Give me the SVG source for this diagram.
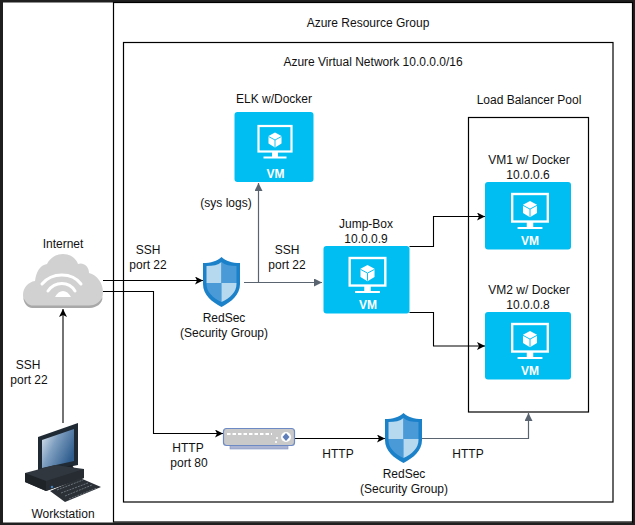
<svg xmlns="http://www.w3.org/2000/svg" xmlns:xlink="http://www.w3.org/1999/xlink" width="635" height="525" viewBox="0 0 635 525">
<style>
text{font-family:"Liberation Sans",Arial,sans-serif;font-size:12px;fill:#111;text-anchor:middle}
.box{fill:#fff;stroke:#000;stroke-width:1.2}
.k{fill:none;stroke:#000;stroke-width:1.1}
.g{fill:none;stroke:#5a6470;stroke-width:1.2}
.vmt{font-size:12px;font-weight:bold;fill:#fff}
.vm{fill:#00bef2}
</style>
<defs>
<marker id="ak" markerUnits="userSpaceOnUse" markerWidth="9" markerHeight="9" refX="8" refY="4" orient="auto"><path d="M0 0L8 4L0 8L2 4Z" fill="#000"/></marker>
<marker id="ag" markerUnits="userSpaceOnUse" markerWidth="9" markerHeight="9" refX="8" refY="4" orient="auto"><path d="M0 0L8 4L0 8L0 4Z" fill="#5a6470"/></marker>
<linearGradient id="screen" x1="0" y1="0" x2="1" y2="0.6"><stop offset="0" stop-color="#e3ebf2"/><stop offset="0.45" stop-color="#7f9fc0"/><stop offset="1" stop-color="#2f5d8e"/></linearGradient>
<g id="vmicon">
<rect x="-16.500" y="-25" width="33" height="25.500" fill="none" stroke="#fff" stroke-width="2.200"/>
<path d="M-3 1h6v4.500h8.500v2h-23v-2h8.500z" fill="#fff"/>
<path d="M0 -18.500L6.500 -15V-7.500L0 -3.500L-6.500 -7.500V-15Z" fill="#fff"/>
<path d="M-6.500 -14.500L0 -11L6.500 -14.500M0 -11V-4" fill="none" stroke="#00bef2" stroke-width="0.9"/>
</g>
<g id="shield">
<path d="M18.500 0C23 4 29 6 37 6V27C37 38 28 45 18.500 50C9 45 0 38 0 27V6C8 6 14 4 18.500 0Z" fill="#1b81c9"/>
<path d="M18.500 5V26H3.500V9C10 9 15 8 18.500 5Z" fill="#b7d9ef"/>
<path d="M18.500 5C22 8 27 9 33.500 9V26H18.500Z" fill="#4b9ad8"/>
<path d="M3.500 26H18.500V45C10 41 3.500 35 3.500 27Z" fill="#4b9ad8"/>
<path d="M18.500 26H33.500V27C33.500 35 27 41 18.500 45Z" fill="#b7d9ef"/>
</g>
</defs>
<rect width="635" height="525" fill="#fff"/>
<path d="M1.500 0V525M0 1H635M633.500 0V525M0 524H635" fill="none" stroke="#1f1f1f" stroke-width="3"/>
<g id="resource-group"><rect class="box" x="113.500" y="2.500" width="519" height="519.500"/><text x="368" y="27">Azure Resource Group</text></g>
<g id="vnet"><rect class="box" x="123.500" y="42.500" width="489.500" height="459.500"/><text x="373" y="66">Azure Virtual Network 10.0.0.0/16</text></g>
<g id="lb-pool"><rect class="box" x="468.500" y="117.500" width="120" height="294.500"/><text x="529" y="104">Load Balancer Pool</text></g>
<g id="connectors">
<path class="k" d="M63 423V309" marker-end="url(#ak)"/>
<path class="k" d="M103 280.500H203" marker-end="url(#ak)"/>
<path class="k" d="M103 291.500H153.500V433.500H223" marker-end="url(#ak)"/>
<path class="g" d="M244 282.500H322" marker-end="url(#ag)"/>
<path class="g" d="M258.500 282.500V183" marker-end="url(#ag)"/>
<path class="k" d="M409.500 246.500H433.500V216.500H485" marker-end="url(#ak)"/>
<path class="k" d="M409.500 312.500H433.500V346H485" marker-end="url(#ak)"/>
<path class="k" d="M295 438.500H385" marker-end="url(#ak)"/>
<path class="g" d="M422 438.500H528.500V413" marker-end="url(#ag)"/>
</g>
<g id="elk"><text x="274" y="103">ELK w/Docker</text><rect class="vm" x="234.500" y="112" width="79" height="70" rx="3"/><use xlink:href="#vmicon" href="#vmicon" x="275" y="151"/><text class="vmt" x="275.500" y="178">VM</text></g>
<g id="jump-box"><text x="366" y="228">Jump-Box</text><text x="366" y="243">10.0.0.9</text><rect class="vm" x="323.500" y="246" width="86" height="67.500" rx="3"/><use xlink:href="#vmicon" href="#vmicon" transform="translate(367.500 285) scale(1.080)"/><text class="vmt" x="368" y="309">VM</text></g>
<g id="vm1"><text x="529" y="164">VM1 w/ Docker</text><text x="528" y="179">10.0.0.6</text><rect class="vm" x="485" y="182" width="86" height="67.500" rx="3"/><use xlink:href="#vmicon" href="#vmicon" transform="translate(530 221) scale(1.080)"/><text class="vmt" x="530" y="245">VM</text></g>
<g id="vm2"><text x="529" y="294">VM2 w/ Docker</text><text x="528" y="309">10.0.0.8</text><rect class="vm" x="485" y="312" width="86" height="67.500" rx="3"/><use xlink:href="#vmicon" href="#vmicon" transform="translate(530 351) scale(1.080)"/><text class="vmt" x="530" y="375">VM</text></g>
<g id="internet"><text x="63" y="248">Internet</text>
<path d="M33 308C27 308 23 302 23 295C23 288 28 282 35 281C36 272 40 265 47 264C50 258 56 254 63 254C70 254 76 258 78 264C83 262 89 266 89 273C97 275 103 283 103 292C103 301 97 308 89 308Z" fill="#d1d1d1"/>
<path d="M33 305.500H89C95 305.500 100 302 102.500 297C102.500 304 96 308 89 308H33C28 308 24 304 23.500 298C26 303 29 305.500 33 305.500Z" fill="#a8a8a8"/>
<path d="M42 284C52 272 72 272 81 284M48 291C55 281 69 281 75 291" fill="none" stroke="#fff" stroke-width="3" stroke-linecap="round"/><path d="M55 297C59 289 67 289 71 297Z" fill="#fff"/></g>
<g id="workstation">
<path d="M38 437L78 423V465L38 473Z" fill="#1f2a34"/>
<path d="M42 440L74 429V461L42 468Z" fill="url(#screen)"/>
<path d="M50 471L72 465L75 470L52 476Z" fill="#1c2126"/>
<path d="M25 473L55 465L84 469V478L46 491L25 482Z" fill="#30373e"/>
<path d="M25 473L46 481V491L25 482Z" fill="#1e2328"/>
<path d="M46 481L84 469V478L46 491Z" fill="#262c32"/>
<path d="M50 491L80 478L101 487L65 502Z" fill="#2a3036"/>
<path d="M57 490L83 480M61 493L88 483M65 496L92 485M69 499L97 488" stroke="#6b7279" stroke-width="1" stroke-dasharray="2 1"/>
<circle cx="52" cy="487" r="1.200" fill="#3f7fc0"/>
<text x="63" y="518">Workstation</text></g>
<g id="redsec-1"><use xlink:href="#shield" href="#shield" x="203" y="257"/><text x="224" y="322">RedSec</text><text x="224" y="337">(Security Group)</text></g>
<g id="redsec-2"><use xlink:href="#shield" href="#shield" x="385" y="413"/><text x="404" y="478">RedSec</text><text x="404" y="493">(Security Group)</text></g>
<g id="switch">
<rect x="230" y="445" width="58" height="4" fill="#aab4d2" stroke="#7f93c4" stroke-width="0.6"/>
<rect x="223.500" y="428.500" width="71" height="17" rx="3" fill="#c9c9c9" stroke="#6d8ac4" stroke-width="1.200"/>
<path d="M227 434H272" stroke="#fff" stroke-width="2" stroke-dasharray="3.500 2"/>
<circle cx="286" cy="437" r="5" fill="#fff"/><path d="M286 433L289.500 437L286 441L282.500 437Z" fill="#5f7fba"/>
<circle cx="277" cy="438" r="1" fill="#fff"/><circle cx="276" cy="442" r="1" fill="#fff"/></g>
<g id="labels">
<text x="148" y="254">SSH</text><text x="148" y="269">port 22</text>
<text x="287" y="254">SSH</text><text x="287" y="269">port 22</text>
<text x="28" y="369">SSH</text><text x="29" y="384">port 22</text>
<text x="188" y="452">HTTP</text><text x="189" y="467">port 80</text>
<text x="338" y="458">HTTP</text><text x="468" y="458">HTTP</text>
<text x="226" y="207">(sys logs)</text>
</g>
</svg>
